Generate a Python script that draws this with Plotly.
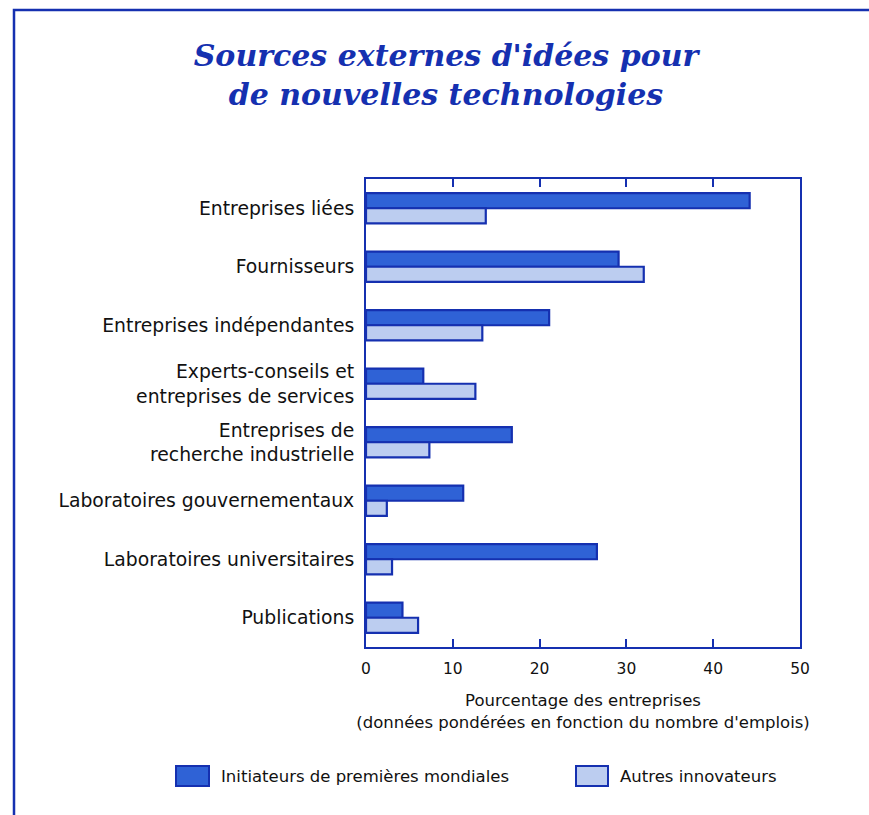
import plotly.graph_objects as go

# Sources of ideas, top to bottom
categories = [
    "Entreprises liées",
    "Fournisseurs",
    "Entreprises indépendantes",
    "Experts-conseils et<br>entreprises de services",
    "Entreprises de<br>recherche industrielle",
    "Laboratoires gouvernementaux",
    "Laboratoires universitaires",
    "Publications",
]

# Percentage of firms (weighted by employment)
initiateurs = [44.2, 29.1, 21.1, 6.6, 16.8, 11.2, 26.6, 4.2]
autres = [13.8, 32.0, 13.4, 12.6, 7.3, 2.4, 3.0, 6.0]

series_names = ["Initiateurs de premières mondiales", "Autres innovateurs"]
x_ticks = [0, 10, 20, 30, 40, 50]

BLUE = "#1530b0"
DARK_FILL = "#2f62d6"
LIGHT_FILL = "#bccdf0"
SANS = "DejaVu Sans, Arial, sans-serif"

W, H = 869, 815
ML, MR, MT, MB = 366, 69, 179, 168
PW, PH = W - ML - MR, H - MT - MB


def px_x(px):
    return (px - ML) / PW


def px_y(py):
    return (H - MB - py) / PH


fig = go.Figure()
fig.add_trace(go.Bar(
    y=categories, x=initiateurs, orientation="h", name=series_names[0],
    marker=dict(color=DARK_FILL, line=dict(color=BLUE, width=2.2)),
    showlegend=False,
))
fig.add_trace(go.Bar(
    y=categories, x=autres, orientation="h", name=series_names[1],
    marker=dict(color=LIGHT_FILL, line=dict(color=BLUE, width=2.2)),
    showlegend=False,
))

# outer frame (left and top edges visible)
shapes = [dict(
    type="rect", xref="paper", yref="paper",
    x0=px_x(14), x1=px_x(890), y0=px_y(840), y1=px_y(10),
    line=dict(color=BLUE, width=2.5), fillcolor="rgba(0,0,0,0)", layer="below",
)]

# legend swatches and labels
legend_items = [
    (series_names[0], DARK_FILL, 176, 209),
    (series_names[1], LIGHT_FILL, 576, 608),
]
annotations = []
for label, fill, x0, x1 in legend_items:
    shapes.append(dict(
        type="rect", xref="paper", yref="paper",
        x0=px_x(x0), x1=px_x(x1), y0=px_y(786), y1=px_y(766),
        line=dict(color=BLUE, width=2), fillcolor=fill,
    ))
    annotations.append(dict(
        text=label, xref="paper", yref="paper",
        x=px_x(x1 + 10), y=px_y(776), xanchor="left", yanchor="middle",
        showarrow=False, font=dict(family=SANS, size=16.5, color="#111111"),
    ))

fig.update_layout(
    width=W, height=H,
    margin=dict(l=ML, r=MR, t=MT, b=MB, autoexpand=False),
    paper_bgcolor="white", plot_bgcolor="white",
    barmode="group", bargap=0.48, bargroupgap=0,
    title=dict(
        text="Sources externes d'idées pour<br>de nouvelles technologies",
        xref="container", yref="container", x=446 / W, xanchor="center",
        y=1 - 66 / H, yanchor="middle",
        font=dict(family="DejaVu Serif, serif", size=30, color=BLUE,
                  weight="bold", style="italic"),
    ),
    xaxis=dict(
        range=[0, 50], tickvals=x_ticks, ticktext=[str(v) for v in x_ticks],
        ticks="inside", ticklen=8, tickwidth=2, tickcolor=BLUE,
        showline=True, linecolor=BLUE, linewidth=2, mirror="ticks",
        showgrid=False, zeroline=False, ticklabelstandoff=6,
        tickfont=dict(family=SANS, size=15.5, color="#111111"),
        title=dict(
            text="Pourcentage des entreprises<br>(données pondérées en fonction du nombre d'emplois)",
            font=dict(family=SANS, size=16.5, color="#111111"), standoff=18,
        ),
    ),
    yaxis=dict(
        autorange="reversed", showline=True, linecolor=BLUE, linewidth=2,
        mirror=True, ticks="", showgrid=False, zeroline=False,
        ticklabelstandoff=6,
        tickfont=dict(family=SANS, size=18.8, color="#111111"),
    ),
    shapes=shapes,
    annotations=annotations,
)

fig.write_html("out.html")
